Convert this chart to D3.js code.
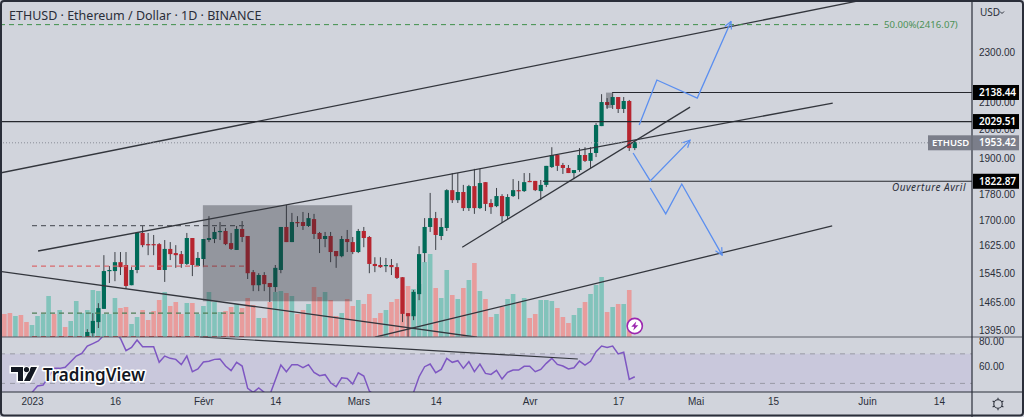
<!DOCTYPE html>
<html>
<head>
<meta charset="utf-8">
<script src="https://cdn.jsdelivr.net/npm/d3@7"></script>
<style>
  html, body { margin: 0; padding: 0; background: #fff; overflow: hidden; }
  svg { display: block; font-family: "Noto Sans", sans-serif; }
  .axis text { fill: #2a2e39; font-size: 10px; }
</style>
</head>
<body>
<div id="chart"></div>
<script>
// candles run from 11 Jan 2023, one per day
const opens = [1370,1387,1415,1449,1551,1551,1576,1568,1512,1554,1661,1628,1628,1628,1554,1614,1602,1599,1571,1646,
  1565,1585,1640,1643,1664,1667,1631,1611,1673,1652,1548,1512,1540,1518,1507,1554,1679,1634,1694,1694,
  1682,1703,1661,1643,1652,1608,1593,1643,1634,1605,1667,1649,1571,1568,1565,1568,1562,1534,1438,1430,
  1488,1602,1679,1706,1652,1676,1794,1762,1788,1737,1807,1737,1820,1753,1743,1775,1712,1775,1794,1791,
  1824,1824,1791,1811,1870,1911,1877,1867,1850,1860,1911,1891,1918,2013,2102,2091,2121,2076,2106,1935];
const closes = [1390,1418,1451,1551,1554,1576,1562,1510,1554,1661,1625,1625,1625,1554,1614,1599,1596,1571,1646,1568,
  1588,1643,1646,1664,1667,1628,1614,1673,1649,1545,1512,1540,1515,1507,1560,1679,1634,1694,1691,1682,
  1706,1658,1643,1652,1605,1593,1643,1634,1605,1667,1646,1571,1565,1562,1568,1562,1532,1436,1430,1494,
  1599,1679,1706,1655,1679,1794,1762,1788,1737,1807,1737,1817,1750,1740,1775,1712,1772,1794,1791,1820,
  1820,1794,1811,1874,1911,1874,1867,1850,1860,1911,1891,1918,2017,2102,2091,2121,2076,2106,1935,1956];
const highs = [1397,1438,1464,1596,1565,1605,1605,1605,1562,1664,1682,1661,1655,1631,1640,1634,1625,1608,1661,1646,
  1605,1643,1712,1679,1694,1676,1661,1682,1697,1652,1554,1545,1548,1518,1568,1679,1747,1722,1712,1725,
  1722,1719,1664,1664,1664,1608,1652,1670,1649,1673,1679,1652,1590,1590,1588,1585,1573,1534,1438,1499,
  1622,1706,1785,1725,1706,1797,1850,1850,1811,1811,1864,1864,1820,1765,1801,1781,1781,1830,1824,1850,
  1850,1824,1827,1874,1938,1911,1884,1877,1860,1935,1938,1938,2024,2132,2117,2136,2121,2121,2110,1963];
const lows = [1365,1377,1400,1449,1518,1523,1540,1502,1512,1545,1619,1596,1596,1554,1521,1582,1560,1560,1568,1537,
  1565,1562,1634,1631,1640,1625,1611,1611,1634,1529,1496,1496,1496,1467,1494,1545,1634,1634,1679,1670,
  1679,1643,1602,1619,1576,1560,1590,1605,1599,1602,1619,1545,1548,1560,1548,1540,1529,1415,1377,1420,
  1472,1576,1664,1611,1640,1667,1753,1753,1728,1728,1719,1734,1728,1719,1740,1691,1703,1772,1765,1788,
  1820,1791,1762,1804,1867,1857,1847,1850,1830,1854,1887,1867,1904,2013,2076,2076,2061,2061,1925,1928];

// volume and rsi start 15 days before the first visible candle
const volumes = [23,24,21,22,15,12,21,23,41,23,27,10,16,36,24,27,47,46,23,23,39,29,30,13,20,27,17,26,37,45,
  31,35,23,34,34,23,31,45,35,25,26,30,33,29,39,32,19,19,35,45,46,44,41,23,27,33,50,40,45,37,
  21,24,38,31,37,33,43,19,24,27,35,38,47,51,48,53,75,83,49,39,67,42,38,49,57,74,46,38,20,23,
  30,38,43,35,39,19,23,37,37,36,29,20,14,22,29,35,43,52,60,25,30,33,33,47];
const earlyVolumeUp = [0,0,1,0,0,1,1,1,1,0,1,0,1,1,1];
const rsi = [40,38,38,37,38,40,45,45.7,52,58.7,58.7,59.5,63.9,68.3,70.4,76,78,80,84.6,87,
  87,82,72.5,75,80.8,75.6,75.6,75.6,63.4,68.3,66.5,65.7,61.6,68.3,56.1,58.2,63.6,64.2,65.7,66,
  60.5,56.9,63.4,60.5,43.1,40,43.4,40,38,49.6,61.3,56.1,61.6,61.6,59.2,61.6,55.6,53,53.8,47.5,
  44.4,51.4,50.9,46.5,55.3,52.7,41,38,36,35,35,34,30,32,40,52.2,60,62.1,55.3,57.9,66.5,
  63.4,64.7,58.7,63.9,56.1,62.1,54.8,54,57.1,50.4,55.6,57.4,57.4,60.3,60.3,56.1,57.9,62.6,66.5,61.8,
  60.5,58.2,59.2,64.4,61.3,64.2,71.7,76.1,75,76.1,69.9,71.2,50.1,52.2];

const priceTicks = [2300,2100,2000,1900,1780,1700,1625,1545,1465,1395];
const rsiTicks = [80,60];
const timeTicks = [0,15,31,44,59,73,90,106,120,134,151,164];
const timeLabels = ['2023','16','Févr','14','Mars','14','Avr','17','Mai','15','Juin','14'];

// drawings as [day, price] pairs
const trendLines = [
  [[-5.8,1850],[149.2,2520]],
  [[1.1,1608],[144.8,2098]],
  [[-5.8,1550],[80.5,1377]],
  [[62,1377],[144.7,1682]],
  [[77.8,1619],[119,2083]]
];
const levels = [
  {price: 2138.44, from: 104.9, label: '2138.44'},
  {price: 2029.51, from: -6, label: '2029.51'},
  {price: 1822.87, from: 92.4, label: '1822.87'}
];
const fibLevels = [
  {price: 1683, color: '#5d6068'},
  {price: 1565, color: '#d9686c'},
  {price: 1438, color: '#4f7d55'},
  {price: 1378, color: '#b71c1c'}
];
const arrows = [
  [[109.8,2017],[113,2187],[120.3,2117],[126.4,2430]],
  [[108.7,1918],[111.8,1824],[119,1963]],
  [[111.8,1801],[114.6,1719],[117.5,1814],[124.8,1596]]
];
const boxes = [
  {d0: 30.9, d1: 57.9, p0: 1746, p1: 1469},
  {d0: 103.8, d1: 104.9, p0: 2138, p1: 2080}
];
const rsiLine = [[30.4,83.1],[98.7,66]];
const rsiBand = [70, 47];
const lastPrice = 1953.42;
const fiftyPct = 2416.07;

const W = 1024, H = 417, axisX = 972, paneBottom = 337, rsiBottom = 392;
const firstDay = 10, volumeOffset = 15;

const x = d3.scaleLinear().domain([0, 100]).range([32, 585]);
const y = d3.scaleLog().domain([2300, 1395]).range([52, 330]);
const yVol = d3.scaleLinear().domain([0, 84]).range([paneBottom, paneBottom - 84]);
const yRsi = d3.scaleLinear().domain([80, 60]).range([341, 366.7]);

const svg = d3.select('#chart').append('svg').attr('width', W).attr('height', H);
svg.append('rect').attr('width', W).attr('height', H).attr('fill', '#d1d4dc');

const defs = svg.append('defs');
defs.append('clipPath').attr('id', 'pricePane').append('rect')
  .attr('width', axisX).attr('height', paneBottom);
defs.append('clipPath').attr('id', 'rsiPane').append('rect')
  .attr('y', paneBottom).attr('width', axisX).attr('height', rsiBottom - paneBottom);
defs.append('clipPath').attr('id', 'allPanes').append('rect')
  .attr('width', axisX).attr('height', rsiBottom);
defs.append('marker').attr('id', 'arrowHead').attr('viewBox', '0 0 10 10')
  .attr('refX', 9).attr('refY', 5).attr('markerWidth', 9).attr('markerHeight', 9)
  .attr('markerUnits', 'userSpaceOnUse').attr('orient', 'auto')
  .append('path').attr('d', 'M1,1L9,5L1,9').attr('fill', 'none')
  .attr('stroke', '#5b8ff0').attr('stroke-width', 1.3);

// volume + candles
const price = svg.append('g').attr('clip-path', 'url(#pricePane)');
const isUp = i => closes[i] >= opens[i];

price.selectAll('.vol').data(volumes).join('rect')
  .attr('class', 'vol')
  .attr('x', (d, i) => x(firstDay + i - volumeOffset) - 2.3)
  .attr('y', d => yVol(d))
  .attr('width', 4.6)
  .attr('height', d => yVol(0) - yVol(d))
  .attr('fill', (d, i) => {
    const up = i < volumeOffset ? earlyVolumeUp[i] : isUp(i - volumeOffset);
    return up ? '#82c3bb' : '#e89c9c';
  });

const candles = price.selectAll('.candle').data(opens).join('g')
  .attr('class', 'candle')
  .attr('transform', (d, i) => `translate(${x(firstDay + i)},0)`);
candles.append('line')
  .attr('y1', (d, i) => y(highs[i]))
  .attr('y2', (d, i) => y(lows[i]))
  .attr('stroke', '#3d4047').attr('stroke-width', 1);
candles.append('rect')
  .attr('x', -2.1).attr('width', 4.2)
  .attr('y', (d, i) => y(Math.max(opens[i], closes[i])))
  .attr('height', (d, i) => Math.max(1.2, Math.abs(y(opens[i]) - y(closes[i]))))
  .attr('fill', (d, i) => isUp(i) ? '#006b58' : '#b7252f');

// rsi pane
const rsiPane = svg.append('g').attr('clip-path', 'url(#rsiPane)');
rsiPane.append('rect').attr('x', 0).attr('width', axisX)
  .attr('y', yRsi(rsiBand[0])).attr('height', rsiBottom - yRsi(rsiBand[0]))
  .attr('fill', '#c9c8dc');
rsiBand.forEach(v => {
  rsiPane.append('line').attr('x1', 0).attr('x2', axisX)
    .attr('y1', yRsi(v)).attr('y2', yRsi(v))
    .attr('stroke', '#9a9ba6').attr('stroke-width', 1).attr('stroke-dasharray', '5 5');
});
rsiPane.append('path').datum(rsi)
  .attr('d', d3.line().x((d, i) => x(firstDay + i - volumeOffset)).y(d => yRsi(d)))
  .attr('fill', 'none').attr('stroke', '#7e57c2').attr('stroke-width', 1.5);

// drawings
const drawings = svg.append('g').attr('clip-path', 'url(#allPanes)');
const lineGen = d3.line().x(d => x(d[0])).y(d => y(d[1]));

drawings.append('line')
  .attr('x1', x(rsiLine[0][0])).attr('y1', yRsi(rsiLine[0][1]))
  .attr('x2', x(rsiLine[1][0])).attr('y2', yRsi(rsiLine[1][1]))
  .attr('stroke', '#33363d').attr('stroke-width', 1.2);

price.selectAll('.fib').data(fibLevels).join('line')
  .attr('class', 'fib')
  .attr('x1', x(0)).attr('x2', x(39))
  .attr('y1', d => y(d.price)).attr('y2', d => y(d.price))
  .attr('stroke', d => d.color).attr('stroke-width', 1.2).attr('stroke-dasharray', '5 4');

price.selectAll('.box').data(boxes).join('rect')
  .attr('class', 'box')
  .attr('x', d => x(d.d0)).attr('width', d => x(d.d1) - x(d.d0))
  .attr('y', d => y(d.p0)).attr('height', d => y(d.p1) - y(d.p0))
  .attr('fill', 'rgba(40,42,50,0.36)');

price.selectAll('.trend').data(trendLines).join('path')
  .attr('class', 'trend').attr('d', lineGen)
  .attr('fill', 'none').attr('stroke', '#33363d').attr('stroke-width', 1.3);

price.selectAll('.level').data(levels).join('line')
  .attr('class', 'level')
  .attr('x1', d => x(d.from)).attr('x2', axisX)
  .attr('y1', d => y(d.price)).attr('y2', d => y(d.price))
  .attr('stroke', '#26282e').attr('stroke-width', 1.2);

// last price dotted line
price.append('line').attr('x1', 0).attr('x2', 928)
  .attr('y1', y(lastPrice)).attr('y2', y(lastPrice))
  .attr('stroke', '#8a8d97').attr('stroke-dasharray', '1 2');

// 50% level
price.append('line').attr('x1', 0).attr('x2', 879)
  .attr('y1', y(fiftyPct)).attr('y2', y(fiftyPct))
  .attr('stroke', '#3f8f4a').attr('stroke-dasharray', '5 4');
svg.append('text').attr('x', 884).attr('y', y(fiftyPct) + 3)
  .attr('fill', '#4c9156').attr('font-size', 9.6).text('50.00%(2416.07)');

price.selectAll('.arrow').data(arrows).join('path')
  .attr('class', 'arrow').attr('d', lineGen)
  .attr('fill', 'none').attr('stroke', '#5b8ff0').attr('stroke-width', 1.3)
  .attr('marker-end', 'url(#arrowHead)');

svg.append('text').attr('x', 966).attr('y', 191).attr('text-anchor', 'end')
  .attr('font-style', 'italic').attr('font-size', 10).attr('letter-spacing', 0.5)
  .attr('fill', '#2a2e39').text('Ouverture Avril');

// lightning badge
const bolt = svg.append('g').attr('transform', `translate(${x(firstDay + 99)},326)`);
bolt.append('circle').attr('r', 7.6).attr('fill', '#fff').attr('stroke', '#9c27b0').attr('stroke-width', 1.6);
bolt.append('path').attr('d', 'M1.5,-4.5L-3.5,0.8L-0.5,0.8L-1.5,4.5L3.5,-0.8L0.5,-0.8Z').attr('fill', '#9c27b0');

// panes and axis frame
const frameColor = '#2a2e39';
const hLine = (yy, color, w) => svg.append('line').attr('x1', 0).attr('x2', W)
  .attr('y1', yy).attr('y2', yy).attr('stroke', color).attr('stroke-width', w);

// axes
const priceAxis = d3.axisRight(y).tickValues(priceTicks).tickSize(0).tickPadding(0)
  .tickFormat(d3.format('.2f'));
svg.append('g').attr('class', 'axis').attr('transform', 'translate(979,0)')
  .call(priceAxis).call(g => g.select('.domain').remove());
const rsiAxis = d3.axisRight(yRsi).tickValues(rsiTicks).tickSize(0).tickPadding(0)
  .tickFormat(d3.format('.2f'));
svg.append('g').attr('class', 'axis').attr('transform', 'translate(979,0)')
  .call(rsiAxis).call(g => g.select('.domain').remove());
const timeAxis = d3.axisBottom(x).tickValues(timeTicks).tickSize(0).tickPadding(0)
  .tickFormat((d, i) => timeLabels[i]);
svg.append('g').attr('class', 'axis').attr('transform', 'translate(0,398)')
  .call(timeAxis).call(g => g.select('.domain').remove());

// price tags
const tag = (yy, label, color) => {
  svg.append('rect').attr('x', 973).attr('y', yy - 7.5).attr('width', 46).attr('height', 15)
    .attr('fill', color);
  svg.append('text').attr('x', 979).attr('y', yy + 3.6).attr('font-size', 10)
    .attr('font-weight', 600).attr('fill', '#fff').text(label);
};
levels.forEach(d => tag(y(d.price), d.label, '#000'));
tag(y(lastPrice), '1953.42', '#7b7e8a');
svg.append('rect').attr('x', 928).attr('y', y(lastPrice) - 7.5).attr('width', 43).attr('height', 15)
  .attr('fill', '#7b7e8a');
svg.append('text').attr('x', 932).attr('y', y(lastPrice) + 3.6).attr('font-size', 9.5)
  .attr('font-weight', 600).attr('fill', '#fff').text('ETHUSD');

hLine(paneBottom, '#5a5d66', 1.2);
hLine(rsiBottom, frameColor, 1.2);
svg.append('line').attr('x1', axisX).attr('x2', axisX).attr('y1', 0).attr('y2', H)
  .attr('stroke', frameColor).attr('stroke-width', 1.2);

// title and currency
svg.append('text').attr('x', 9).attr('y', 19.5).attr('font-size', 12.5).attr('fill', '#2a2e39')
  .text('ETHUSD · Ethereum / Dollar · 1D · BINANCE');
svg.append('text').attr('x', 980).attr('y', 16).attr('font-size', 10).attr('fill', '#2a2e39')
  .text('USD');
svg.append('path').attr('d', 'M1000,11.5l2,2l2,-2').attr('fill', 'none').attr('stroke', '#2a2e39');

// gear
const gear = svg.append('g').attr('transform', 'translate(998,404)')
  .attr('fill', 'none').attr('stroke', '#2a2e39').attr('stroke-width', 1.1);
gear.append('circle').attr('r', 4.2);
d3.range(6).forEach(k => {
  const a = k * Math.PI / 3 + Math.PI / 2;
  gear.append('line').attr('x1', 4.2 * Math.cos(a)).attr('y1', 4.2 * Math.sin(a))
    .attr('x2', 6.2 * Math.cos(a)).attr('y2', 6.2 * Math.sin(a));
});

// tradingview logo
const logo = svg.append('g').attr('transform', 'translate(11,367)');
const logoMark = 'M0,0H12V14H7V5H0ZM20,0H26L19,14H13Z';
logo.append('path').attr('d', logoMark).attr('fill', '#131722')
  .attr('stroke', '#fff').attr('stroke-width', 3).attr('paint-order', 'stroke');
logo.append('circle').attr('cx', 15.5).attr('cy', 2.6).attr('r', 2.6).attr('fill', '#131722')
  .attr('stroke', '#fff').attr('stroke-width', 1.5).attr('paint-order', 'stroke');
logo.append('text').attr('x', 32).attr('y', 14).attr('font-size', 17).attr('font-weight', 600)
  .attr('fill', '#131722').attr('stroke', '#fff').attr('stroke-width', 3)
  .attr('paint-order', 'stroke').attr('stroke-linejoin', 'round').text('TradingView');

// outer frame
svg.append('rect').attr('x', 1).attr('y', 1).attr('width', W - 2).attr('height', H - 2.5).attr('rx', 3)
  .attr('fill', 'none').attr('stroke', frameColor).attr('stroke-width', 2);
</script>
</body>
</html>
